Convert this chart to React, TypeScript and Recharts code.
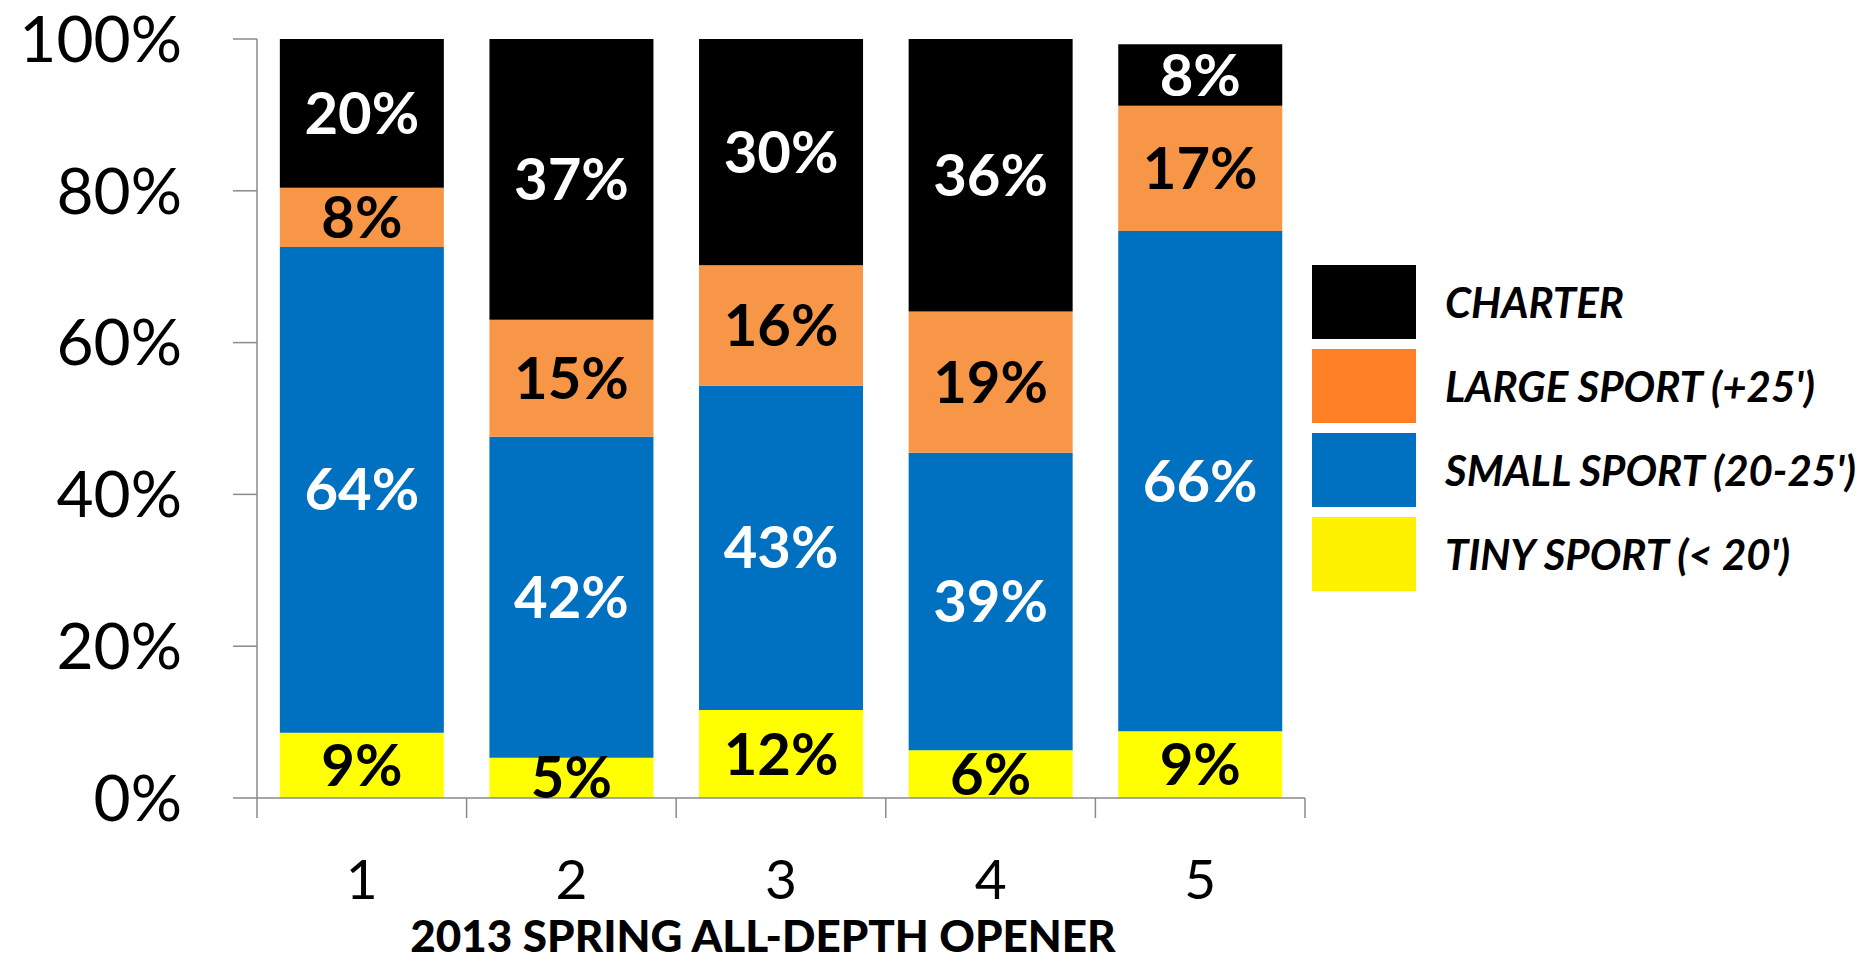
import { Bar, BarChart, LabelList, Legend, XAxis, YAxis } from "recharts";

const CATEGORIES = ["1", "2", "3", "4", "5"];
const TINY = [8.6, 5.3, 11.6, 6.3, 8.8];
const SMALL = [64.0, 42.3, 42.7, 39.2, 65.9];
const LARGE = [7.8, 15.4, 15.9, 18.6, 16.5];
const CHARTER = [19.6, 37.0, 29.8, 35.9, 8.1];
const Y_TICKS = [0, 20, 40, 60, 80, 100];
const TITLE = "2013 SPRING ALL-DEPTH OPENER";

const FONT = "Lato, 'Liberation Sans', sans-serif";
const AXIS_GREY = "#8a8a8a";

const W = 1865;
const H = 962;
const MARGIN = { top: 39, right: 560, bottom: 0, left: 0 };
const Y_AXIS_W = 257;
const X_AXIS_H = 164;
const BAND = (W - MARGIN.left - MARGIN.right - Y_AXIS_W) / CATEGORIES.length;

// stacked bottom -> top
const SERIES = [
  { key: "tiny", label: "TINY SPORT (< 20')", fill: "#FFFF00", swatch: "#FFF200", text: "#000" },
  { key: "small", label: "SMALL SPORT (20-25')", fill: "#0070C0", swatch: "#0070C0", text: "#fff" },
  { key: "large", label: "LARGE SPORT (+25')", fill: "#F79646", swatch: "#FF7F27", text: "#000" },
  { key: "charter", label: "CHARTER", fill: "#000000", swatch: "#000000", text: "#fff" },
];

const data = CATEGORIES.map((name, i) => ({
  name,
  tiny: TINY[i],
  small: SMALL[i],
  large: LARGE[i],
  charter: CHARTER[i],
}));

function CategoryTick(props: any) {
  const { x, y, payload, index } = props;
  const half = BAND / 2;
  return (
    <g>
      <line x1={x - half} x2={x - half} y1={y} y2={y + 20} stroke={AXIS_GREY} strokeWidth={1.5} />
      {index === CATEGORIES.length - 1 ? (
        <line x1={x + half} x2={x + half} y1={y} y2={y + 20} stroke={AXIS_GREY} strokeWidth={1.5} />
      ) : null}
      <text x={x} y={y + 101} textAnchor="middle" fontFamily={FONT} fontSize={55} fill="#000">
        {payload.value}
      </text>
    </g>
  );
}

function LegendBox() {
  const items = [...SERIES].reverse();
  return (
    <div style={{ fontFamily: FONT }}>
      {items.map((s) => (
        <div key={s.key} style={{ display: "flex", alignItems: "center", height: 84 }}>
          <div style={{ width: 104, height: 74, background: s.swatch }} />
          <span
            style={{
              marginLeft: 29,
              fontSize: 42,
              fontWeight: 700,
              fontStyle: "italic",
              color: "#000",
              whiteSpace: "nowrap",
            }}
          >
            {s.label}
          </span>
        </div>
      ))}
    </div>
  );
}

export default function App() {
  return (
    <div style={{ position: "fixed", left: 0, top: 0, width: W, height: H, background: "#fff" }}>
      <BarChart width={W} height={H} data={data} margin={MARGIN} barCategoryGap="10.9%">
        <XAxis
          dataKey="name"
          height={X_AXIS_H}
          axisLine={{ stroke: AXIS_GREY, strokeWidth: 1.5 }}
          tickLine={false}
          tickSize={0}
          tickMargin={0}
          tick={<CategoryTick />}
          interval={0}
          label={{
            value: TITLE,
            position: "insideBottom",
            offset: 10,
            dx: -18,
            fontFamily: FONT,
            fontSize: 44,
            fontWeight: 900,
            fill: "#000",
          }}
        />
        <YAxis
          width={Y_AXIS_W}
          domain={[0, 100]}
          ticks={Y_TICKS}
          tickFormatter={(v: number) => `${v}%`}
          axisLine={{ stroke: AXIS_GREY, strokeWidth: 1.5 }}
          tickLine={{ stroke: AXIS_GREY, strokeWidth: 1.5 }}
          tickSize={24}
          tickMargin={51}
          tick={{ fontFamily: FONT, fontSize: 64, fill: "#000" }}
        />
        <Legend
          layout="vertical"
          align="center"
          verticalAlign="middle"
          content={() => <LegendBox />}
          wrapperStyle={{ left: 1312, top: 260, width: 553 }}
        />
        {SERIES.map((s) => (
          <Bar key={s.key} dataKey={s.key} stackId="a" fill={s.fill} isAnimationActive={false}>
            <LabelList
              dataKey={s.key}
              position="center"
              formatter={(v: number) => `${Math.round(v)}%`}
              fill={s.text}
              fontFamily={FONT}
              fontSize={58}
              fontWeight={700}
            />
          </Bar>
        ))}
      </BarChart>
    </div>
  );
}
